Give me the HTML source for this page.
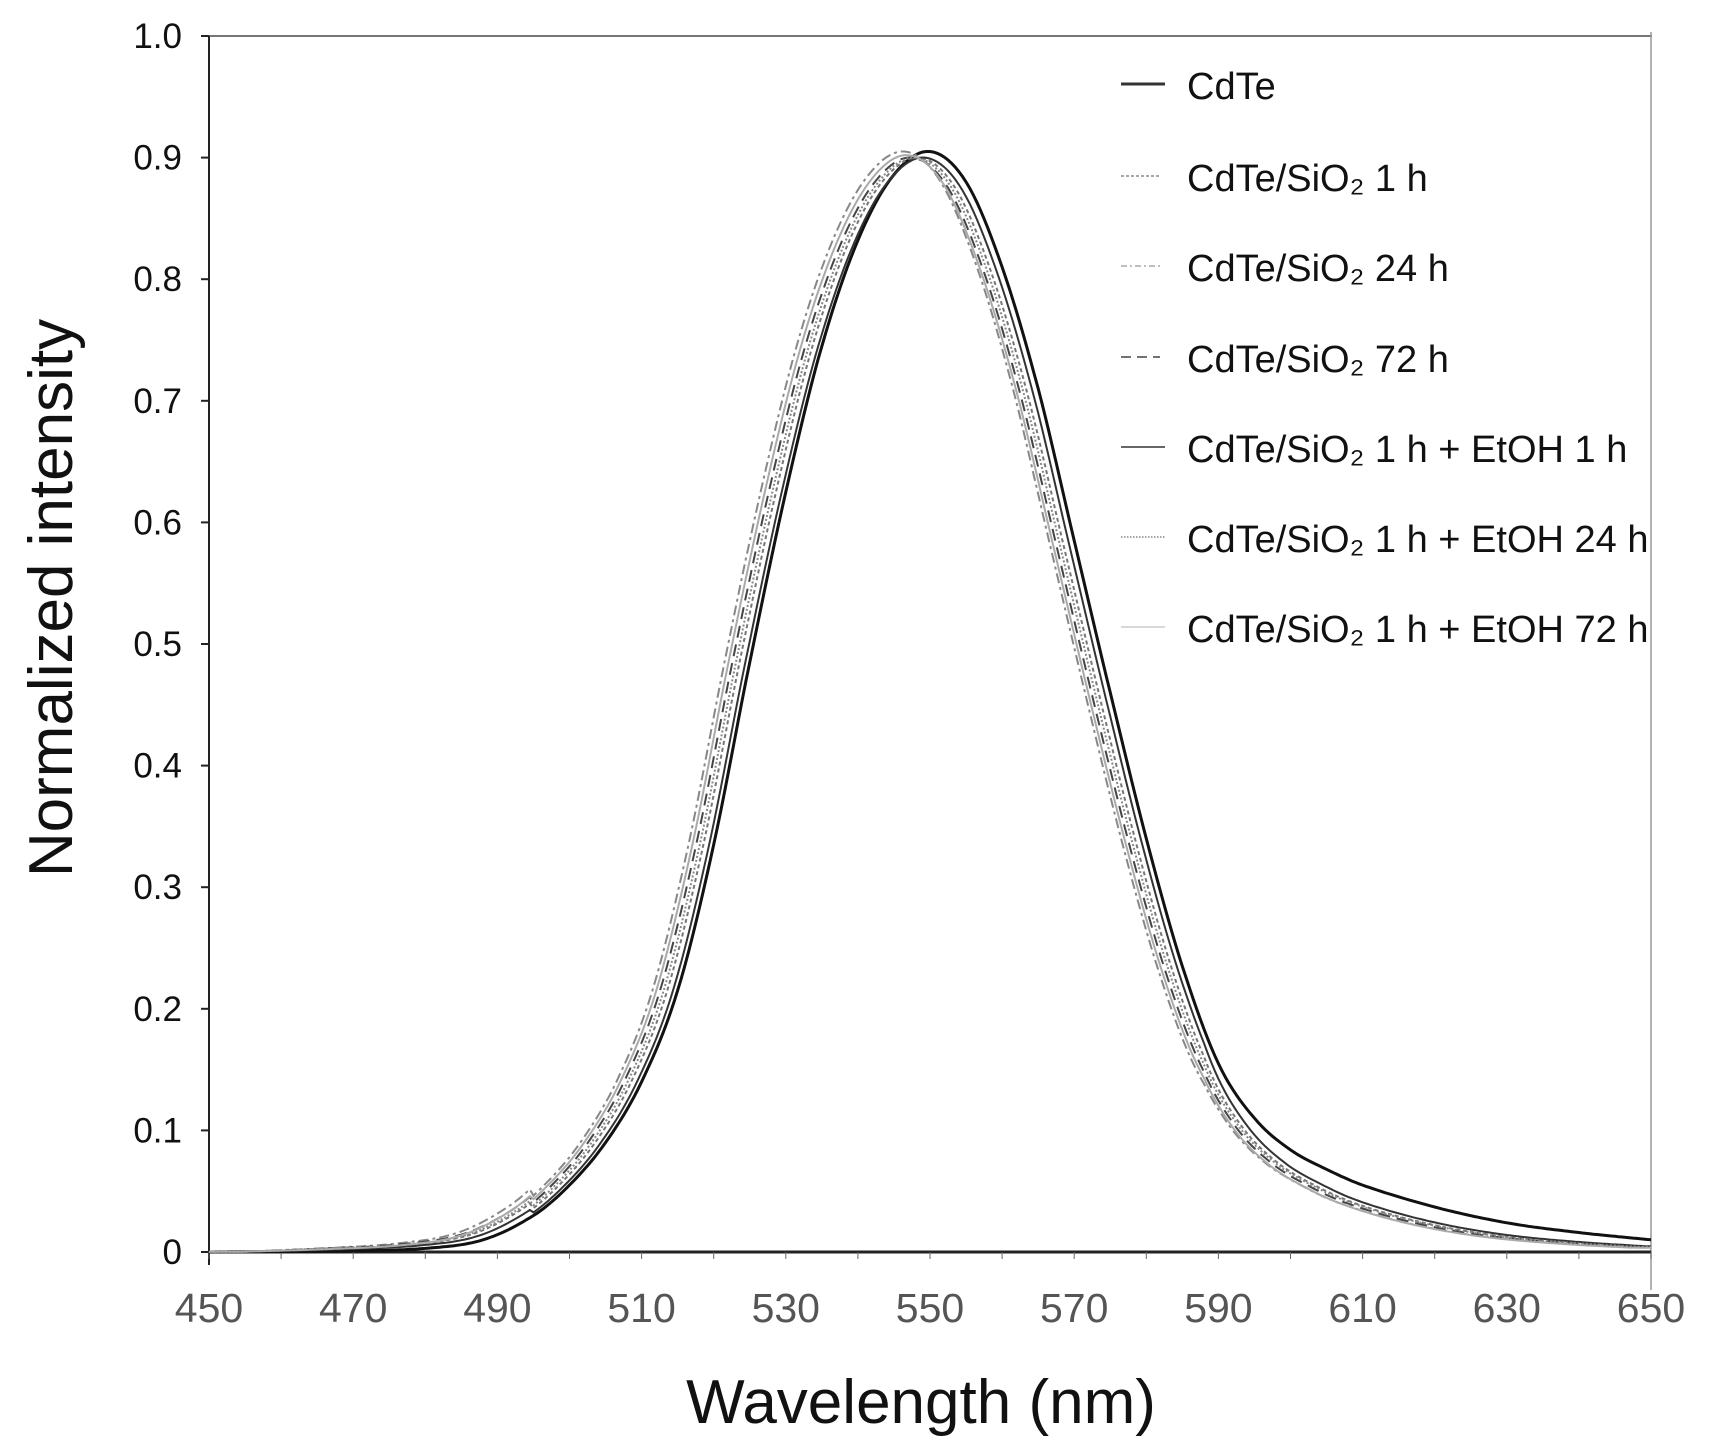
<!DOCTYPE html>
<html><head><meta charset="utf-8"><style>
html,body{margin:0;padding:0;background:#fff}
svg{display:block}
text{font-family:"Liberation Sans",sans-serif}
</style></head><body>
<svg id="c" width="1717" height="1452" viewBox="0 0 1717 1452" xmlns="http://www.w3.org/2000/svg">
<rect width="1717" height="1452" fill="#fff"/>
<line x1="209" y1="36" x2="1652" y2="36" stroke="#777" stroke-width="2"/>
<line x1="1651" y1="32" x2="1651" y2="1290" stroke="#999" stroke-width="1.5"/>
<line x1="209" y1="36" x2="209" y2="1265" stroke="#222" stroke-width="2"/>
<line x1="209" y1="1252" x2="1651" y2="1252" stroke="#222" stroke-width="3"/>
<g id="ticks"></g>
<g id="curves" fill="none"></g>
<g font-size="35" fill="#111" text-anchor="end" id="ylab"></g>
<g font-size="41" fill="#555" text-anchor="middle" id="xlab"></g>
<text x="921" y="1423" font-size="62" text-anchor="middle" fill="#111">Wavelength (nm)</text>
<text transform="translate(72,598) rotate(-90)" font-size="62" text-anchor="middle" fill="#111">Normalized intensity</text>
<g font-size="38" fill="#111">
<line x1="1121" y1="84" x2="1165" y2="84" stroke="#333" stroke-width="3"/>
<text x="1187" y="99">CdTe</text>
<line x1="1121" y1="176" x2="1160" y2="176" stroke="#888" stroke-width="1.5" stroke-dasharray="3,2"/>
<text x="1187" y="191">CdTe/SiO₂ 1 h</text>
<line x1="1121" y1="266" x2="1160" y2="266" stroke="#aaa" stroke-width="1.5" stroke-dasharray="6,3,2,3"/>
<text x="1187" y="281">CdTe/SiO₂ 24 h</text>
<line x1="1121" y1="357" x2="1160" y2="357" stroke="#444" stroke-width="1.5" stroke-dasharray="10,6"/>
<text x="1187" y="372">CdTe/SiO₂ 72 h</text>
<line x1="1121" y1="447" x2="1165" y2="447" stroke="#333" stroke-width="1.5"/>
<text x="1187" y="462">CdTe/SiO₂ 1 h + EtOH 1 h</text>
<line x1="1121" y1="537" x2="1165" y2="537" stroke="#888" stroke-width="1.5" stroke-dasharray="1.5,1.5"/>
<text x="1187" y="552">CdTe/SiO₂ 1 h + EtOH 24 h</text>
<line x1="1121" y1="627" x2="1165" y2="627" stroke="#ccc" stroke-width="1.5"/>
<text x="1187" y="642">CdTe/SiO₂ 1 h + EtOH 72 h</text>
</g>
</svg>
<script>
var NS="http://www.w3.org/2000/svg";
function X(w){return 209+(w-450)*(1651-209)/200}
function Y(v){return 1252-v*1216}
function el(p,t,a){var e=document.createElementNS(NS,t);for(var k in a)e.setAttribute(k,a[k]);p.appendChild(e);if(a._t){e.textContent=a._t;e.removeAttribute('_t')}return e}
var tk=document.getElementById('ticks'),yl=document.getElementById('ylab'),xl=document.getElementById('xlab');
for(var i=0;i<=10;i++){var y=Y(i/10);el(tk,'line',{x1:201,y1:y,x2:209,y2:y,stroke:'#222','stroke-width':2});
el(yl,'text',{x:182,y:y+12,_t:i==0?'0':i==10?'1.0':(i/10).toFixed(1)});}
for(var w=450;w<=650;w+=10){var x=X(w);el(tk,'line',{x1:x,y1:1252,x2:x,y2:1259,stroke:'#666','stroke-width':1});}
for(var w=450;w<=650;w+=20){el(xl,'text',{x:X(w),y:1322,_t:String(w)});}
var base=[[450,0],[470,0.001],[480,0.003],[488,0.01],[495,0.03],[500,0.055],[505,0.09],[510,0.14],[515,0.215],[520,0.335],[525,0.485],[530,0.625],[535,0.745],[540,0.832],[545,0.886],[550,0.905],[555,0.88],[560,0.81],[565,0.71],[570,0.585],[575,0.46],[580,0.34],[585,0.235],[590,0.155],[595,0.11],[600,0.084],[605,0.068],[610,0.055],[620,0.037],[630,0.024],[640,0.016],[650,0.01]];
function interp(tab,w){if(w<=tab[0][0])return tab[0][1];for(var i=1;i<tab.length;i++){if(w<=tab[i][0]){var a=tab[i-1],b=tab[i];
var p0=tab[Math.max(i-2,0)],p3=tab[Math.min(i+1,tab.length-1)];var t=(w-a[0])/(b[0]-a[0]);
var m1=(b[1]-p0[1])/(b[0]-p0[0])*(b[0]-a[0]),m2=(p3[1]-a[1])/(p3[0]-a[0])*(b[0]-a[0]);
var t2=t*t,t3=t2*t;return (2*t3-3*t2+1)*a[1]+(t3-2*t2+t)*m1+(-2*t3+3*t2)*b[1]+(t3-t2)*m2;}}return tab[tab.length-1][1]}
function curve(shift,peak,tail,lowbump){var d='';for(var w=450;w<=650;w+=0.5){var v=interp(base,w+shift)*peak/0.905;
if(w>588){v=v*Math.exp(-(w-588)*tail);}
if(w<495)v+=lowbump*Math.max(0,(w-455)/40);
if(v<0)v=0;d+=(d?'L':'M')+X(w).toFixed(1)+','+Y(v).toFixed(1);}return d}
var cg=document.getElementById('curves');
var S=[
[0,0.905,0,0,'#111',3,''],
[1.5,0.9,0.014,0.006,'#777',2,'4,3'],
[3.5,0.905,0.016,0.008,'#888',2,'10,4,3,4'],
[2.5,0.9,0.015,0.007,'#444',2,'12,7'],
[0.7,0.9,0.012,0.004,'#333',2,''],
[2,0.9,0.014,0.006,'#888',2,'2,2'],
[3,0.902,0.017,0.005,'#aaa',2,'']];
S.forEach(function(s){var a={d:curve(s[0],s[1],s[2],s[3]),stroke:s[4],'stroke-width':s[5]};if(s[6])a['stroke-dasharray']=s[6];el(cg,'path',a);});
</script>
</body></html>
